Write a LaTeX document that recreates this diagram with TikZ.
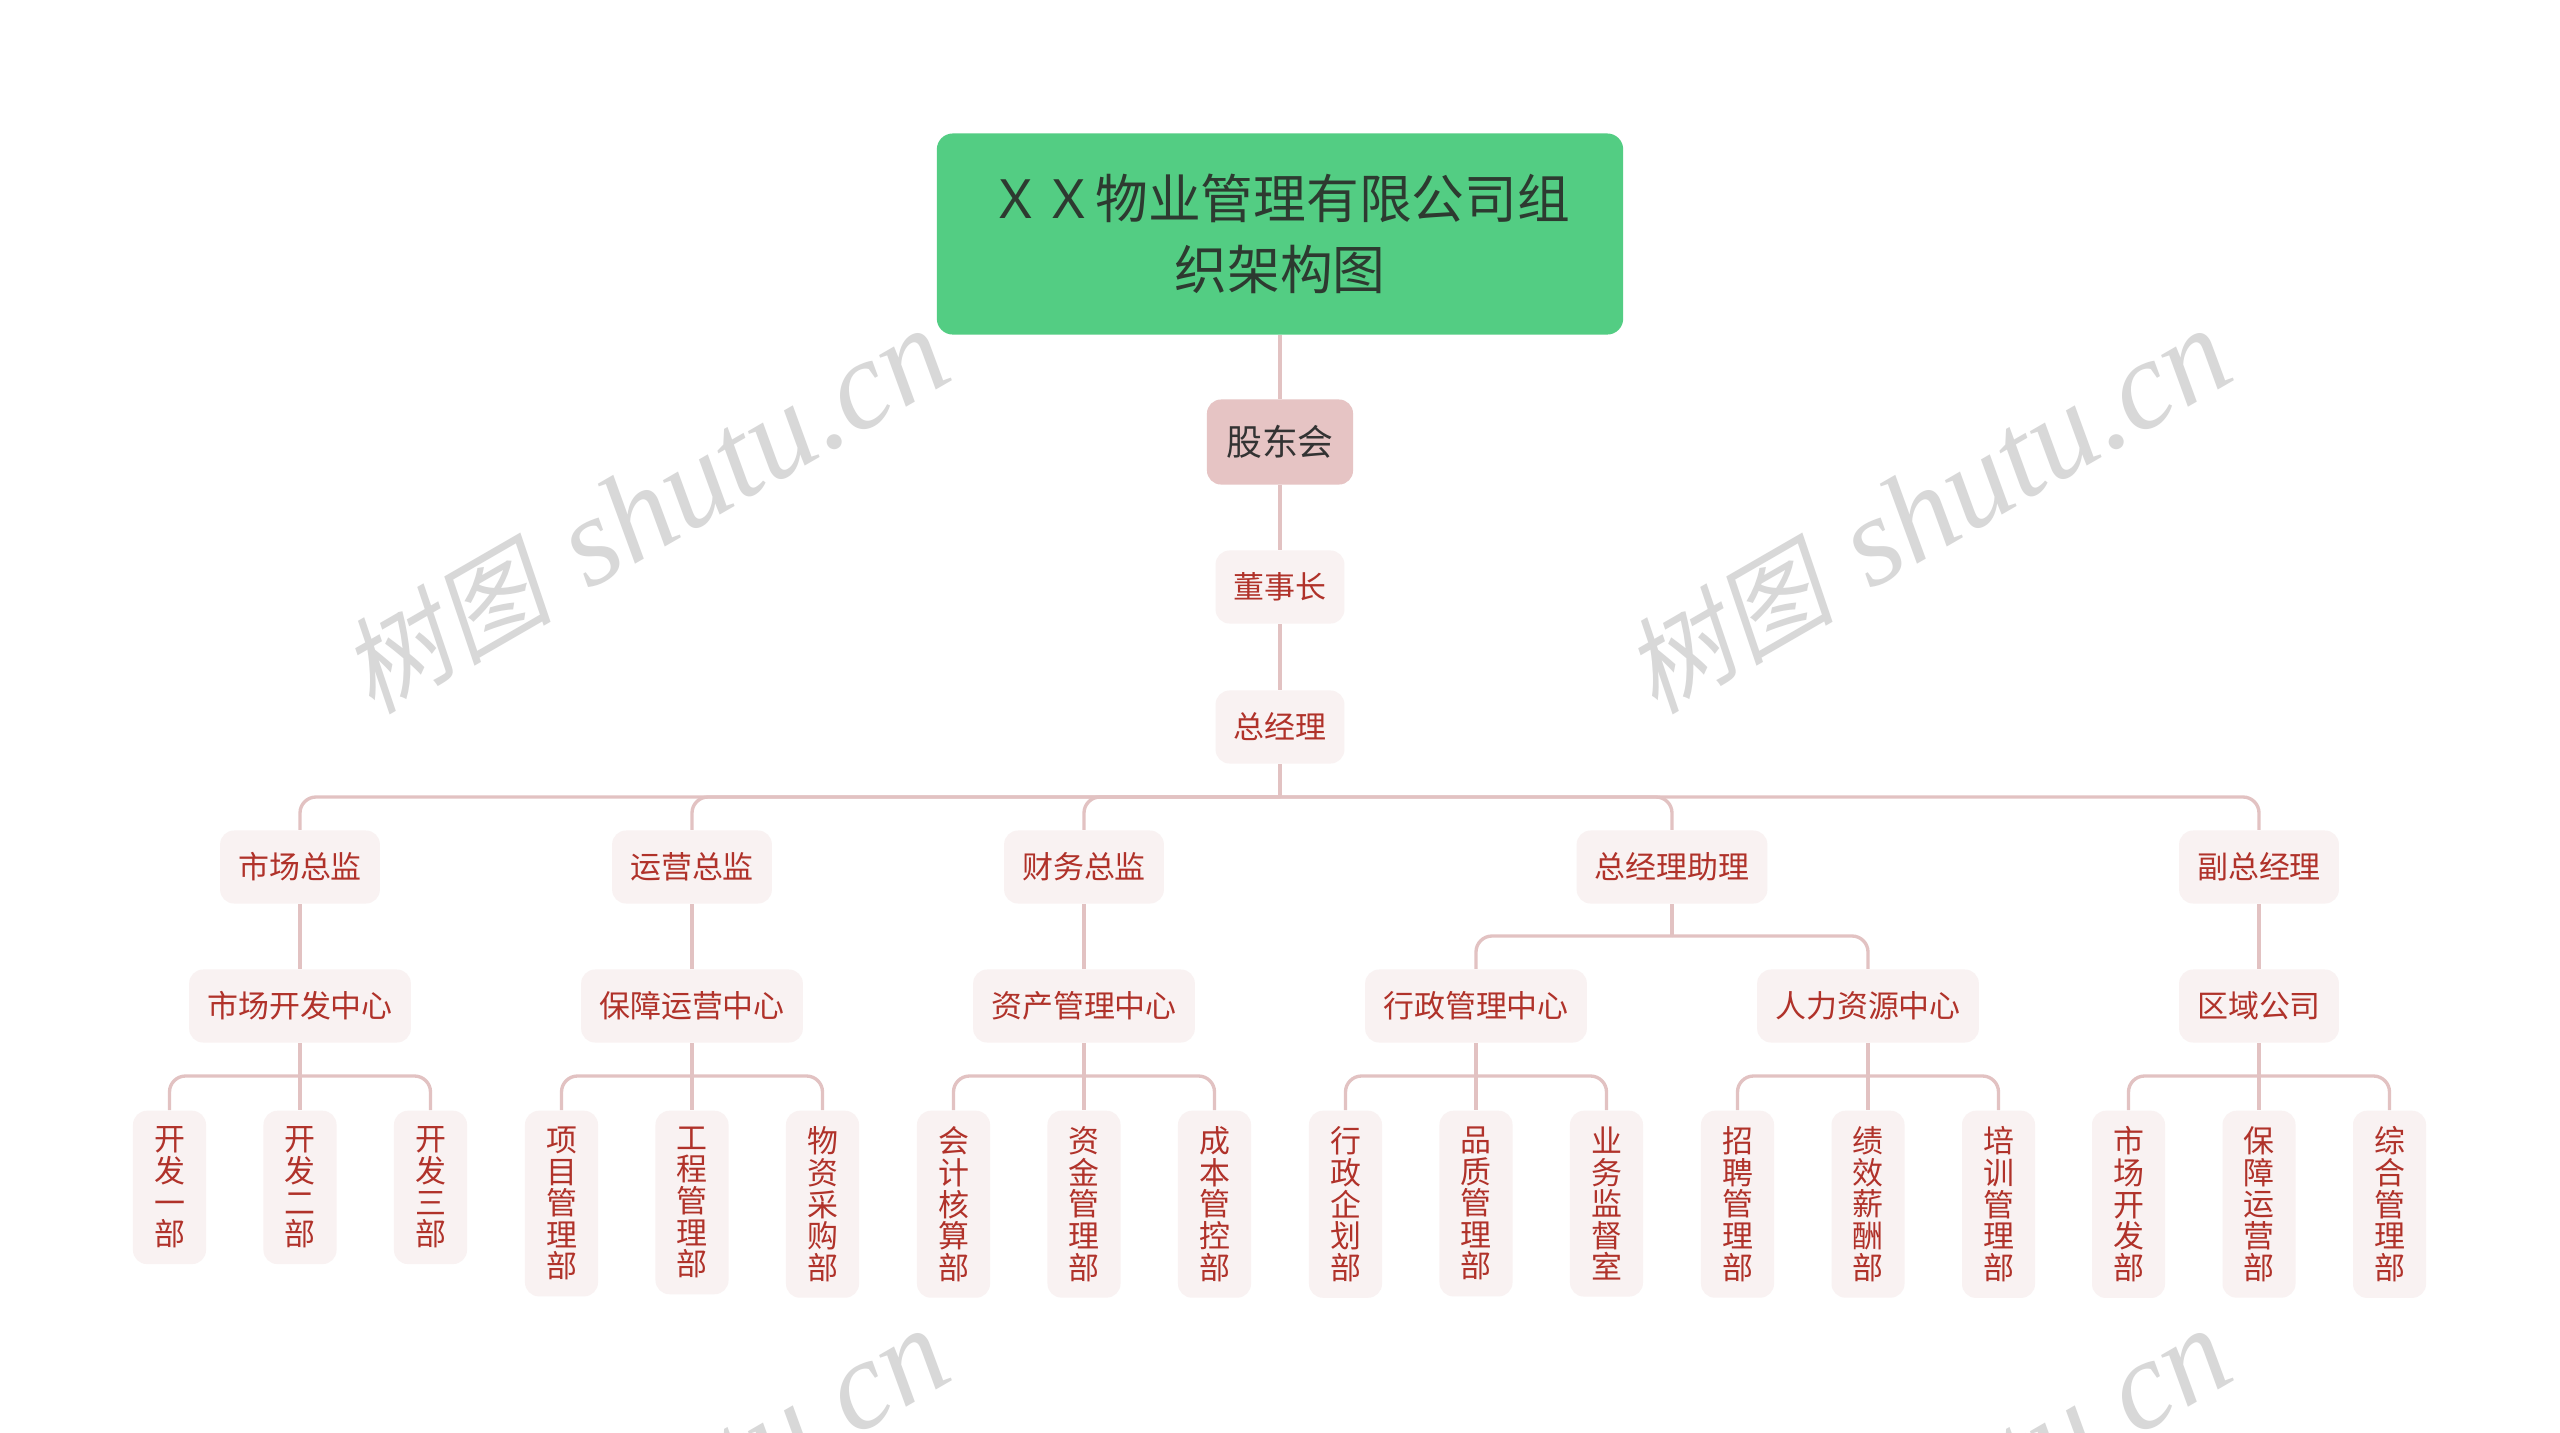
\documentclass[tikz,border=0pt]{standalone}
\usepackage{fontspec}
\setmainfont{Noto Sans CJK SC}
\newfontfamily\wmlatin{Liberation Serif}
\newfontfamily\wmcjk[FakeSlant=0.2]{Noto Sans CJK SC}
\usetikzlibrary{positioning}
\definecolor{rootgreen}{RGB}{83,205,131}
\definecolor{rootink}{RGB}{45,58,48}
\definecolor{boardpink}{RGB}{230,196,196}
\definecolor{softpink}{RGB}{249,242,242}
\definecolor{deptred}{RGB}{176,50,42}
\definecolor{linkpink}{RGB}{226,194,194}
\definecolor{markgray}{RGB}{216,216,216}
\newcommand{\wmtext}{{\wmcjk\fontsize{30}{30}\selectfont 树图}{\wmlatin\itshape\fontsize{36}{36}\selectfont\hspace{0.3em}shutu.cn}}

\begin{document}
\begin{tikzpicture}[x=0.01cm, y=-0.01cm,
    every node/.style={rounded corners=0.14cm, text centered, inner sep=0pt},
    rootbox/.style={fill=rootgreen, text=rootink, align=center, rounded corners=0.16cm,
      minimum width=6.86cm, minimum height=2.01cm, font=\fontsize{15}{20}\selectfont},
    board/.style={fill=boardpink, text=black!80, minimum width=1.46cm,
      minimum height=0.85cm, font=\fontsize{10.2}{12}\selectfont},
    post/.style={fill=softpink, text=deptred, inner xsep=0.18cm,
      minimum height=0.73cm, font=\fontsize{8.8}{10}\selectfont},
    dept/.style={fill=softpink, text=deptred, anchor=north, align=center,
      minimum width=0.73cm, inner ysep=0.16cm, font=\fontsize{8.8}{9}\selectfont},
    link/.style={draw=linkpink, line width=0.95pt, rounded corners=0.16cm},
    wmark/.style={text=markgray, rotate=30, rounded corners=0pt}
  ]
  \useasboundingbox (0,0) rectangle (2560,1433);
  \fill[white] (0,0) rectangle (2560,1433);

  % watermark
  \begin{scope}
    \clip (0,0) rectangle (2560,1433);
    \node[wmark] (wm1) at (645,512) {\wmtext};
    \node[wmark] (wm2) at (1927,512) {\wmtext};
    \node[wmark] (wm3) at (645,1512) {\wmtext};
    \node[wmark] (wm4) at (1927,1512) {\wmtext};
  \end{scope}

  % top of the chart
  \node[rootbox] (root) at (1280,234) {ＸＸ物业管理有限公司组\\织架构图};
  \node[board] (gudong) at (1280,442) {股东会};
  \node[post] (dongshi) at (1280,587) {董事长};
  \node[post] (zongjl) at (1280,727) {总经理};

  % directors
  \node[post] (shichang) at (300,867) {市场总监};
  \node[post] (yunying) at (692,867) {运营总监};
  \node[post] (caiwu) at (1084,867) {财务总监};
  \node[post] (zhuli) at (1672,867) {总经理助理};
  \node[post] (fuzong) at (2259,867) {副总经理};

  % centres
  \node[post] (scdev) at (300,1006) {市场开发中心};
  \node[post] (baozhang) at (692,1006) {保障运营中心};
  \node[post] (zichan) at (1084,1006) {资产管理中心};
  \node[post] (xingzheng) at (1476,1006) {行政管理中心};
  \node[post] (renli) at (1868,1006) {人力资源中心};
  \node[post] (quyu) at (2259,1006) {区域公司};

  % departments
  \node[dept] (kf1) at (169.5,1110) {开\\发\\一\\部};
  \node[dept] (kf2) at (300,1110) {开\\发\\二\\部};
  \node[dept] (kf3) at (430.5,1110) {开\\发\\三\\部};
  \node[dept] (xm) at (561.5,1110) {项\\目\\管\\理\\部};
  \node[dept] (gc) at (692,1110) {工\\程\\管\\理\\部};
  \node[dept] (wz) at (822.5,1110) {物\\资\\采\\购\\部};
  \node[dept] (kj) at (953.5,1110) {会\\计\\核\\算\\部};
  \node[dept] (zj) at (1084,1110) {资\\金\\管\\理\\部};
  \node[dept] (cb) at (1214.5,1110) {成\\本\\管\\控\\部};
  \node[dept] (xz) at (1345.5,1110) {行\\政\\企\\划\\部};
  \node[dept] (pz) at (1476,1110) {品\\质\\管\\理\\部};
  \node[dept] (yw) at (1606.5,1110) {业\\务\\监\\督\\室};
  \node[dept] (zp) at (1737.5,1110) {招\\聘\\管\\理\\部};
  \node[dept] (jx) at (1868,1110) {绩\\效\\薪\\酬\\部};
  \node[dept] (px) at (1998.5,1110) {培\\训\\管\\理\\部};
  \node[dept] (sckf) at (2128.5,1110) {市\\场\\开\\发\\部};
  \node[dept] (bzyy) at (2259,1110) {保\\障\\运\\营\\部};
  \node[dept] (zhgl) at (2389.5,1110) {综\\合\\管\\理\\部};

  % connectors
  \draw[link] (root.south) -- (gudong.north);
  \draw[link] (gudong.south) -- (dongshi.north);
  \draw[link] (dongshi.south) -- (zongjl.north);

  \coordinate (topbus) at (1280,797);
  \draw[link] (zongjl.south) -- (topbus);
  \draw[link] (topbus) -| (shichang.north);
  \draw[link] (topbus) -| (yunying.north);
  \draw[link] (topbus) -| (caiwu.north);
  \draw[link] (topbus) -| (zhuli.north);
  \draw[link] (topbus) -| (fuzong.north);

  \draw[link] (shichang.south) -- (scdev.north);
  \draw[link] (yunying.south) -- (baozhang.north);
  \draw[link] (caiwu.south) -- (zichan.north);
  \draw[link] (fuzong.south) -- (quyu.north);
  \coordinate (zlbus) at (1672,936);
  \draw[link] (zhuli.south) -- (zlbus);
  \draw[link] (zlbus) -| (xingzheng.north);
  \draw[link] (zlbus) -| (renli.north);

  \coordinate (bus1) at (300,1076);
  \draw[link] (scdev.south) -- (kf2.north);
  \draw[link] (bus1) -| (kf1.north);
  \draw[link] (bus1) -| (kf3.north);
  \coordinate (bus2) at (692,1076);
  \draw[link] (baozhang.south) -- (gc.north);
  \draw[link] (bus2) -| (xm.north);
  \draw[link] (bus2) -| (wz.north);
  \coordinate (bus3) at (1084,1076);
  \draw[link] (zichan.south) -- (zj.north);
  \draw[link] (bus3) -| (kj.north);
  \draw[link] (bus3) -| (cb.north);
  \coordinate (bus4) at (1476,1076);
  \draw[link] (xingzheng.south) -- (pz.north);
  \draw[link] (bus4) -| (xz.north);
  \draw[link] (bus4) -| (yw.north);
  \coordinate (bus5) at (1868,1076);
  \draw[link] (renli.south) -- (jx.north);
  \draw[link] (bus5) -| (zp.north);
  \draw[link] (bus5) -| (px.north);
  \coordinate (bus6) at (2259,1076);
  \draw[link] (quyu.south) -- (bzyy.north);
  \draw[link] (bus6) -| (sckf.north);
  \draw[link] (bus6) -| (zhgl.north);
\end{tikzpicture}
\end{document}
